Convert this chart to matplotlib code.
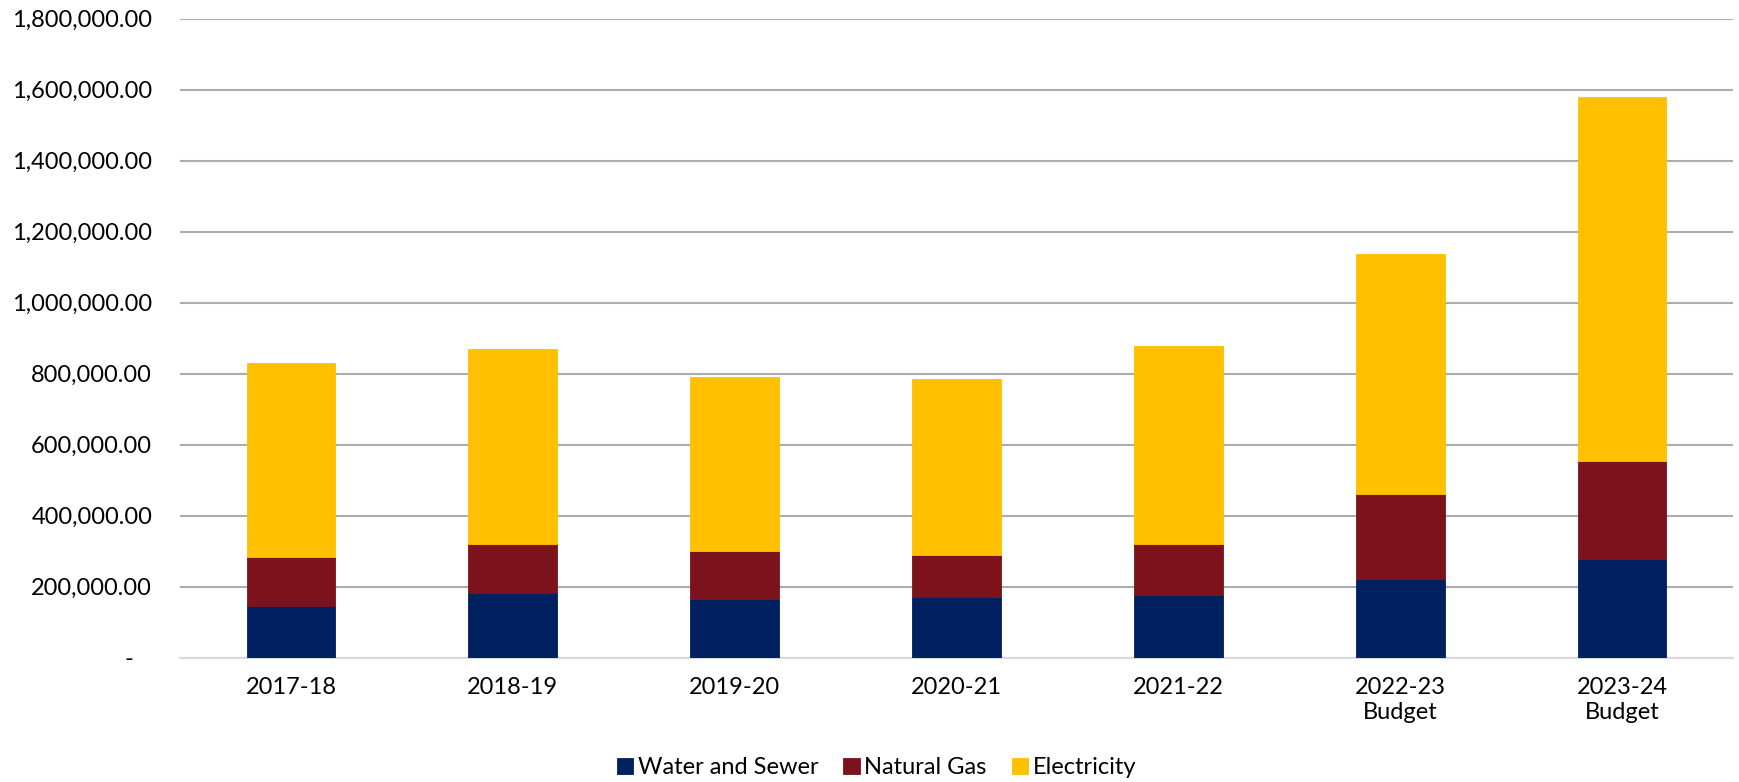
import matplotlib
matplotlib.use("Agg")
import matplotlib.pyplot as plt
import matplotlib.transforms as mtransforms
from matplotlib.ticker import FuncFormatter
import numpy as np

# Utility costs by fiscal year
categories = ["2017-18", "2018-19", "2019-20", "2020-21", "2021-22",
              "2022-23\nBudget", "2023-24\nBudget"]
water_sewer = [146500, 181400, 164500, 170100, 176600, 222500, 278900]
natural_gas = [138000, 138900, 135200, 118300, 144500, 238600, 276000]
electricity = [544800, 549300, 490200, 496700, 556900, 675200, 1025400]

series_names = ["Water and Sewer", "Natural Gas", "Electricity"]
colors = ["#002060", "#7B121C", "#FFC000"]

plt.rcParams["font.family"] = ["Lato", "DejaVu Sans"]

fig = plt.figure(figsize=(17.39, 7.82), dpi=100)
ax = fig.add_axes([0.1035, 0.159, 0.893, 0.817])

x = np.arange(len(categories))
bar_w = 0.40
bottom = np.zeros(len(categories))
handles = []
for name, vals, col in zip(series_names, [water_sewer, natural_gas, electricity], colors):
    b = ax.bar(x, vals, bar_w, bottom=bottom, color=col, label=name,
               zorder=3, linewidth=0.6, edgecolor=col)
    handles.append(b)
    bottom = bottom + np.array(vals)

ax.set_xlim(-0.5, len(categories) - 0.5)
ax.set_ylim(0, 1800000)
ax.set_yticks(np.arange(0, 1800001, 200000))


def fmt(v, pos):
    if v == 0:
        return "-"
    return f"{v:,.2f}"


ax.yaxis.set_major_formatter(FuncFormatter(fmt))
ax.set_xticks(x)
ax.set_xticklabels(categories, linespacing=1.2)

ax.grid(axis="y", color="#ADADAD", linewidth=1.5, zorder=0)
for s in ["top", "right", "left"]:
    ax.spines[s].set_visible(False)
ax.spines["bottom"].set_color("#D9D9D9")
ax.spines["bottom"].set_linewidth(1.5)
ax.tick_params(axis="both", length=0, labelsize=17, colors="#000000")
ax.tick_params(axis="y", pad=20)
ax.tick_params(axis="x", pad=14)

# shift the zero label left to mimic accounting alignment
zero_lbl = ax.get_yticklabels()[0]
zero_lbl.set_transform(zero_lbl.get_transform() +
                       mtransforms.ScaledTranslation(-0.19, 0, fig.dpi_scale_trans))

fig.legend(handles=handles, labels=series_names, loc="center",
           bbox_to_anchor=(0.504, 0.018), ncol=3, frameon=False,
           fontsize=17, handlelength=0.7, handleheight=0.7,
           handletextpad=0.2, columnspacing=1.05)

fig.savefig("out.png", dpi=100, facecolor="white")
